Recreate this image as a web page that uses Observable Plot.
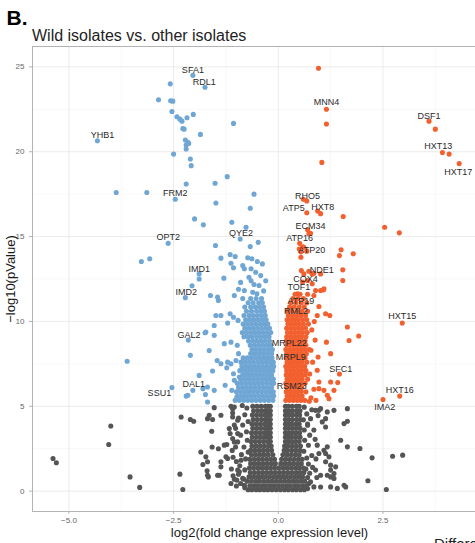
<!DOCTYPE html>
<html>
<head>
<meta charset="utf-8">
<script src="https://cdn.jsdelivr.net/npm/d3@7"></script>
<script src="https://cdn.jsdelivr.net/npm/@observablehq/plot@0.6"></script>
<style>
  html, body { margin: 0; padding: 0; background: #fff; overflow: hidden; width: 475px; height: 543px; }
  body { position: relative; font-family: "Liberation Sans", Arial, Helvetica, sans-serif; }
  #panel-label { position: absolute; left: 6.5px; top: 7px; font-size: 21px; font-weight: bold; line-height: 1; color: #000; }
  #title { position: absolute; left: 32px; top: 27.5px; font-size: 16px; line-height: 1; color: #222; white-space: nowrap; }
  #legend-title { position: absolute; left: 434px; top: 536px; font-size: 15px; line-height: 1; color: #222; white-space: nowrap; }
  #chart { position: absolute; left: 0; top: 0; }
  g[aria-label^="x-axis"], g[aria-label^="y-axis"] { color: #b3b3b3; }
  g[aria-label^="x-axis"] text, g[aria-label^="y-axis"] text { fill: #666; stroke: none; }
</style>
</head>
<body>
<div id="chart"></div>
<div id="panel-label">B.</div>
<div id="title">Wild isolates vs. other isolates</div>
<div id="legend-title">Differentially expressed</div>
<script>
// ---- axis ticks ----
const xTicks = [-5, -2.5, 0, 2.5];
const xTickLabels = ["\u22125.0", "\u22122.5", "0.0", "2.5"];
const yTicks = [0, 5, 10, 15, 20, 25];
const yTickLabels = ["0", "5", "10", "15", "20", "25"];
const xMinor = [-3.75, -1.25, 1.25, 3.75];
const yMinor = [2.5, 7.5, 12.5, 17.5, 22.5];
const xLabel = "log2(fold change expression level)";
const yLabel = "\u2212log10(pValue)";

// ---- down-regulated (blue) scattered points [log2FC, -log10 p] ----
const downPoints = [
  [-2.04,24.5],[-1.75,23.8],[-4.32,20.65],[-2.46,17.2],[-2.63,14.6],[-1.89,12.8],[-1.89,12.5],
  [-2.06,12.1],[-2.22,11.4],[-2.15,8.9],[-2.54,6.1],[-2.04,5.94],[-2.2,5.6],
  [-2.58,24.0],[-2.86,23.06],[-2.57,23.0],[-2.52,22.98],[-2.54,22.37],[-2.42,22.06],[-2.35,21.92],
  [-2.3,21.8],[-2.18,22.0],[-2.03,22.2],[-2.28,21.37],[-2.25,21.33],[-1.86,21.02],[-1.07,21.67],
  [-2.22,20.69],[-2.16,20.55],[-2.14,20.49],[-2.2,20.4],[-2.2,20.16],[-2.5,19.86],[-2.1,19.57],
  [-2.08,19.18],[-1.22,18.53],[-1.51,18.14],[-2.2,18.1],[-3.87,17.6],[-3.14,17.6],[-1.49,16.98],
  [-2.0,16.04],[-1.79,15.69],[-1.11,15.84],[-1.5,14.47],[-3.27,13.53],[-3.07,13.69],[-1.37,13.73],
  [-1.3,12.55],[-0.58,17.5],[-0.67,16.67],[-0.77,15.55],[-0.91,14.86],[-0.48,14.66],[-0.67,14.41],
  [-1.15,13.94],[-1.03,13.82],[-0.73,13.75],[-0.63,13.69],[-0.5,13.53],[-0.38,13.39],[-1.13,13.43],
  [-1.07,13.16],[-0.85,13.29],[-0.81,13.1],[-0.65,13.1],[-0.54,12.9],[-0.42,12.7],[-0.7,12.6],
  [-0.65,12.4],[-0.58,12.18],[-0.46,12.12],[-0.81,11.82],[-0.61,11.72],[-0.51,11.63],[-1.05,11.53],
  [-1.45,11.43],[-1.62,11.53],[-1.43,11.24],[-1.37,10.35],[-1.15,10.45],[-1.07,10.25],[-0.96,10.06],
  [-1.21,9.9],[-1.75,9.33],[-1.53,9.18],[-1.29,8.69],[-1.13,8.78],[-1.65,8.29],[-2.1,8.0],
  [-3.61,7.65],[-1.46,7.7],[-1.21,7.6],[-1.13,7.5],[-1.01,7.7],[-1.57,7.08],[-1.23,7.27],
  [-1.07,6.92],[-1.05,6.53],[-0.93,6.72],[-1.27,6.24],[-1.8,6.04],[-1.53,5.94],[-1.11,5.94],
  [-1.74,5.69],[-1.69,5.25],[-0.99,5.55],[-1.49,10.35],[-1.53,9.76],[-1.73,9.37],[-1.37,7.51],
  [-1.89,6.82],[-1.69,6.14],[-2.16,5.65],[-0.95,11.9],[-0.3,12.4],[-0.9,12.3],[-0.35,11.8]
];
// dense down-regulated core: [ -log10 p, [log2FC ...] ]
const downRows = [
  [5.35,[-1.03,-0.93,-0.83,-0.73,-0.63,-0.53,-0.43,-0.33,-0.23,-0.13]],
  [5.6,[-0.97,-0.87,-0.77,-0.67,-0.57,-0.47,-0.37,-0.27,-0.17,-0.11]],
  [5.85,[-1.0,-0.9,-0.8,-0.7,-0.6,-0.5,-0.4,-0.3,-0.2,-0.12]],
  [6.1,[-0.95,-0.85,-0.75,-0.65,-0.55,-0.45,-0.35,-0.25,-0.16]],
  [6.35,[-0.98,-0.88,-0.78,-0.68,-0.58,-0.48,-0.38,-0.28,-0.18,-0.11]],
  [6.6,[-0.9,-0.8,-0.7,-0.6,-0.5,-0.4,-0.3,-0.2,-0.12]],
  [6.85,[-0.85,-0.75,-0.65,-0.55,-0.45,-0.35,-0.25,-0.16]],
  [7.1,[-0.92,-0.82,-0.72,-0.62,-0.52,-0.42,-0.32,-0.22,-0.13]],
  [7.35,[-0.87,-0.77,-0.67,-0.57,-0.47,-0.37,-0.27,-0.17,-0.11]],
  [7.6,[-0.89,-0.79,-0.69,-0.59,-0.49,-0.39,-0.29,-0.19,-0.12]],
  [7.85,[-0.84,-0.74,-0.64,-0.54,-0.44,-0.34,-0.24,-0.15]],
  [8.1,[-0.95,-0.66,-0.56,-0.46,-0.36,-0.26,-0.16]],
  [8.35,[-0.63,-0.53,-0.43,-0.33,-0.23,-0.14]],
  [8.6,[-0.98,-0.67,-0.57,-0.47,-0.37,-0.27,-0.18]],
  [8.85,[-0.71,-0.61,-0.51,-0.41,-0.31,-0.21]],
  [9.1,[-0.82,-0.72,-0.62,-0.52,-0.42,-0.32,-0.22]],
  [9.35,[-0.86,-0.76,-0.66,-0.56,-0.46,-0.36,-0.26,-0.18]],
  [9.6,[-0.8,-0.7,-0.6,-0.5,-0.4,-0.3,-0.21]],
  [9.85,[-0.84,-0.74,-0.64,-0.54,-0.44,-0.34,-0.25]],
  [10.1,[-0.78,-0.68,-0.58,-0.48,-0.38,-0.29]],
  [10.35,[-0.82,-0.7,-0.6,-0.5,-0.4,-0.31]],
  [10.6,[-0.76,-0.64,-0.52,-0.42,-0.33]],
  [10.85,[-0.8,-0.66,-0.55,-0.45,-0.35]],
  [11.1,[-0.72,-0.6,-0.47,-0.38]],
  [11.35,[-0.85,-0.66,-0.53,-0.4]]
];

// ---- up-regulated (red) scattered points ----
const upPoints = [
  [0.96,24.92],[1.15,22.5],[1.15,21.63],[1.04,19.37],[3.6,21.8],[3.75,21.33],[3.92,19.95],
  [4.08,19.86],[4.32,19.3],[0.6,17.2],[0.68,17.1],[0.68,16.4],[0.94,16.5],[1.01,16.35],
  [1.55,16.18],[2.54,15.55],[2.89,15.22],[0.77,15.2],[0.7,15.4],[0.51,14.6],[0.58,14.4],
  [0.54,14.1],[0.54,13.78],[1.5,14.22],[1.46,13.88],[1.79,13.98],[1.54,13.04],[1.54,12.41],
  [0.89,11.82],[1.08,11.86],[0.97,10.88],[0.93,10.35],[1.13,10.45],[1.23,10.35],[1.65,9.67],
  [1.92,9.14],[1.69,8.88],[1.15,8.78],[1.25,8.1],[0.93,7.12],[0.97,6.43],[1.25,6.43],
  [1.42,6.4],[1.09,5.94],[1.33,5.94],[1.21,5.45],[1.46,6.9],[2.96,9.9],[2.9,5.6],[2.5,5.4],
  [0.97,6.04],[1.17,5.65],[0.68,14.14],[0.55,13.0],[0.73,12.96],[0.81,12.8],[0.61,12.8],
  [1.01,12.8],[1.09,11.92],[0.7,12.41],[0.81,12.22],[0.58,12.32],[1.01,11.82],[0.85,11.53],
  [0.46,11.63],[0.73,15.16],[0.61,14.37],[0.5,14.27],[0.85,12.84],
  [0.78,5.5],[0.85,6.0],[0.75,6.9],[0.82,7.6],[0.78,8.3],[0.88,8.9],[0.8,9.5],[0.86,10.0],
  [0.74,5.3],[0.9,5.35],[0.95,7.9]
];
const upRows = [
  [5.35,[0.18,0.27,0.36,0.45,0.54,0.63]],
  [5.6,[0.21,0.3,0.39,0.48,0.57]],
  [5.85,[0.19,0.28,0.37,0.46,0.55,0.66]],
  [6.1,[0.2,0.29,0.38,0.47,0.56]],
  [6.35,[0.18,0.27,0.36,0.45,0.54,0.64]],
  [6.6,[0.21,0.3,0.39,0.48,0.57,0.7]],
  [6.85,[0.19,0.28,0.37,0.46,0.55,0.64]],
  [7.1,[0.2,0.29,0.38,0.47,0.56,0.66]],
  [7.35,[0.18,0.27,0.36,0.45,0.54,0.63]],
  [7.6,[0.21,0.3,0.39,0.48,0.57,0.68]],
  [7.85,[0.19,0.28,0.37,0.46,0.55,0.64]],
  [8.1,[0.2,0.29,0.38,0.47,0.56,0.67]],
  [8.35,[0.18,0.27,0.36,0.45,0.54,0.63,0.74]],
  [8.6,[0.21,0.3,0.39,0.48,0.57,0.66]],
  [8.85,[0.19,0.28,0.37,0.46,0.55,0.64]],
  [9.1,[0.2,0.29,0.38,0.47,0.56,0.66]],
  [9.35,[0.22,0.31,0.4,0.49,0.58,0.69]],
  [9.6,[0.2,0.29,0.38,0.47,0.56,0.65]],
  [9.85,[0.23,0.32,0.41,0.5,0.6,0.72]],
  [10.1,[0.21,0.3,0.39,0.48,0.58,0.68]],
  [10.35,[0.24,0.34,0.44,0.54,0.65]],
  [10.6,[0.22,0.33,0.45,0.57,0.7]],
  [10.85,[0.27,0.38,0.5,0.62]],
  [11.1,[0.3,0.42,0.55,0.68]],
  [11.35,[0.35,0.47,0.6]],
  [11.6,[0.4,0.52,0.7]]
];

// ---- not significant (grey) scattered points ----
const nsPoints = [
  [-5.38,1.92],[-5.3,1.67],[-4.0,3.84],[-4.05,2.75],[-3.54,0.84],[-3.31,0.22],[-2.32,4.37],
  [-2.1,4.22],[-2.02,4.12],[-2.35,1.0],[-2.28,0.1],[-1.85,2.31],[-1.8,1.57],[-1.7,1.2],
  [-1.67,0.84],[-1.65,4.47],[-1.57,4.22],[-1.53,4.92],[-1.59,3.53],[-1.58,2.6],[-1.43,2.5],
  [-1.37,1.43],[-1.41,0.94],[-1.37,4.47],[-1.13,5.0],[-1.23,2.75],[-1.21,1.92],[-0.99,0.65],
  [-0.93,1.14],[-1.73,2.02],[-1.69,1.73],[-1.37,1.73],[-1.69,4.27],[-1.29,2.71],[-1.69,0.94],
  [-1.45,0.94],[-1.09,4.86],[-1.09,4.37],[-0.97,4.18],[-1.17,3.69],[-1.09,3.1],[-0.97,2.9],
  [-1.25,2.02],[-0.89,1.82],[-0.97,1.24],[-0.85,0.75],[-0.81,0.35],[-1.05,4.96],[-0.97,3.39],
  [-1.09,4.6],[-1.05,3.9],[-1.15,3.4],[-1.02,2.6],[-1.08,2.0],[-1.12,1.3],[-1.05,0.7],[-1.13,0.45],
  [0.77,4.27],[0.7,3.88],[0.97,4.76],[1.05,4.08],[1.13,3.78],[1.33,4.76],[1.65,4.86],[1.65,4.12],
  [1.57,3.98],[1.49,3.0],[1.65,2.61],[0.93,2.71],[0.97,2.22],[1.09,2.41],[1.21,2.02],[1.13,1.73],
  [1.25,1.53],[1.17,0.94],[1.33,0.75],[1.57,0.35],[1.41,0.16],[0.77,0.55],[0.85,0.25],[0.89,1.24],
  [1.01,0.94],[1.13,4.27],[1.95,2.51],[2.24,1.96],[2.73,2.06],[2.97,2.12],[2.14,0.61],[2.58,0.1],
  [1.61,0.25],[1.25,0.25],[1.01,0.24],[1.33,1.04],[1.25,0.84],[1.17,2.61],[1.13,2.22],[1.37,1.43],
  [1.25,1.24],[1.01,4.86],[0.89,4.76],[1.17,4.67],
  [-0.75,4.9],[-0.8,4.5],[-0.72,4.1],[-0.85,3.9],[-0.76,3.5],[-0.9,3.3],[-0.74,3.0],[-0.82,2.6],
  [-0.72,2.3],[-0.88,2.15],[-0.78,1.9],[-0.92,1.5],[-0.8,1.25],[-0.95,1.0],[-0.82,0.7],[-0.9,0.45],
  [-0.8,0.2],[-1.0,0.3],[-0.86,5.05],[-0.95,4.3],[-1.02,3.7],[-1.05,2.9],[-1.1,2.4],[-1.0,1.75],
  [-1.08,0.9],[0.62,4.95],[0.68,4.55],[0.6,4.2],[0.7,3.95],[0.62,3.6],[0.75,3.3],[0.63,3.0],
  [0.72,2.7],[0.61,2.35],[0.8,2.1],[0.68,1.95],[0.72,1.6],[0.66,1.3],[0.75,1.05],[0.7,0.8],
  [0.73,0.45],[0.7,0.15],[0.85,3.6],[0.82,1.4],[0.9,1.9],[0.88,3.05],[0.95,4.45],[0.8,4.8],[0.92,0.8]
];
// dense grey core: [ -log10 p, [log2FC ...] ]
const nsRows = [
  [0.08,[-0.72,-0.63,-0.53,-0.44,-0.34,-0.25,-0.15,-0.05,0.05,0.15,0.24,0.34,0.43,0.53,0.62]],
  [0.32,[-0.68,-0.58,-0.49,-0.39,-0.3,-0.2,-0.1,0.0,0.1,0.2,0.29,0.39,0.48,0.58,0.67]],
  [0.58,[-0.74,-0.64,-0.54,-0.45,-0.35,-0.25,-0.15,-0.05,0.05,0.15,0.25,0.35,0.44,0.54,0.63]],
  [0.84,[-0.7,-0.6,-0.5,-0.41,-0.31,-0.21,-0.11,-0.01,0.09,0.19,0.29,0.39,0.49,0.58]],
  [1.1,[-0.67,-0.57,-0.47,-0.37,-0.27,-0.17,-0.07,0.03,0.13,0.23,0.33,0.43,0.52,0.61]],
  [1.36,[-0.69,-0.59,-0.49,-0.39,-0.29,-0.19,-0.09,0.01,0.11,0.21,0.31,0.41,0.5,0.6]],
  [1.62,[-0.66,-0.56,-0.46,-0.36,-0.26,-0.16,-0.07,0.06,0.16,0.26,0.36,0.46,0.55]],
  [1.88,[-0.68,-0.58,-0.48,-0.38,-0.28,-0.18,-0.09,0.08,0.18,0.28,0.38,0.48,0.57]],
  [2.14,[-0.64,-0.54,-0.44,-0.34,-0.24,-0.13,0.11,0.21,0.31,0.41,0.5]],
  [2.4,[-0.66,-0.56,-0.46,-0.36,-0.26,-0.16,0.14,0.22,0.32,0.42,0.52]],
  [2.66,[-0.63,-0.53,-0.43,-0.33,-0.23,-0.17,0.15,0.23,0.33,0.43,0.53]],
  [2.92,[-0.65,-0.55,-0.45,-0.35,-0.25,-0.19,0.17,0.25,0.33,0.41,0.5]],
  [3.18,[-0.62,-0.52,-0.42,-0.32,-0.24,-0.19,0.17,0.24,0.32,0.42,0.52]],
  [3.44,[-0.64,-0.54,-0.44,-0.34,-0.26,-0.19,0.17,0.25,0.33,0.42,0.51]],
  [3.7,[-0.61,-0.51,-0.41,-0.31,-0.25,-0.19,0.17,0.25,0.34,0.43,0.52]],
  [3.96,[-0.63,-0.53,-0.43,-0.33,-0.26,-0.19,0.17,0.24,0.32,0.42,0.5]],
  [4.22,[-0.6,-0.5,-0.4,-0.31,-0.25,-0.19,0.17,0.25,0.34,0.44,0.53]],
  [4.48,[-0.62,-0.52,-0.42,-0.32,-0.26,-0.19,0.17,0.24,0.33,0.43,0.51]],
  [4.74,[-0.59,-0.49,-0.39,-0.3,-0.25,-0.19,0.17,0.25,0.34,0.44,0.52]],
  [5.0,[-0.61,-0.51,-0.41,-0.31,-0.25,-0.19,0.17,0.24,0.33,0.43,0.5]]
];

// ---- gene labels (label centre, data units) ----
const geneNames = ["SFA1","RDL1","YHB1","FRM2","OPT2","QYE2","IMD1","IMD2","GAL2","SSU1","DAL1",
  "MNN4","DSF1","HXT13","HXT17","RHO5","ATP5","HXT8","ECM34","ATP16","ATP20","NDE1","COX4","TOF1",
  "ATP19","RML2","MRPL22","MRPL9","RSM23","SFC1","HXT15","HXT16","IMA2"];
const geneLabelX = [-2.04,-1.77,-4.2,-2.46,-2.63,-0.89,-1.89,-2.2,-2.13,-2.84,-2.02,
  1.15,3.6,3.82,4.3,0.7,0.37,1.06,0.77,0.51,0.8,1.04,0.65,0.49,
  0.54,0.42,0.26,0.3,0.32,1.49,2.96,2.9,2.54];
const geneLabelY = [24.8,24.1,21.0,17.55,14.95,15.2,13.06,11.7,9.18,5.8,6.3,
  22.9,22.1,20.35,18.8,17.4,16.7,16.76,15.6,14.9,14.2,13.05,12.5,12.0,
  11.2,10.6,8.7,7.9,6.2,7.2,10.3,5.94,4.94];

// ---- build tables ----
const pairs = (arr) => arr.map(([x, y]) => ({x, y}));
const rows = (arr) => arr.flatMap(([y, xs]) => xs.map(x => ({x, y})));
const nsData = pairs(nsPoints).concat(rows(nsRows));
const downData = pairs(downPoints).concat(rows(downRows));
const upData = pairs(upPoints).concat(rows(upRows));
const genes = geneNames.map((name, i) => ({name, x: geneLabelX[i], y: geneLabelY[i]}));
const xFmt = new Map(xTicks.map((t, i) => [t, xTickLabels[i]]));
const yFmt = new Map(yTicks.map((t, i) => [t, yTickLabels[i]]));

const R = 2.55;
const chart = Plot.plot({
  width: 520,
  height: 543,
  marginLeft: 32,
  marginRight: 14,
  marginTop: 46,
  marginBottom: 32,
  style: {maxWidth: "none", background: "transparent", fontFamily: "'Liberation Sans', Arial, Helvetica, sans-serif", fontSize: "8px", overflow: "visible"},
  x: {domain: [-5.87, 5.45], ticks: xTicks, tickFormat: d => xFmt.get(d), tickSize: 3, tickPadding: 3, label: null},
  y: {domain: [-1.2, 26.2], ticks: yTicks, tickFormat: d => yFmt.get(d), tickSize: 3, tickPadding: 5, label: null},
  marks: [
    Plot.ruleX(xMinor, {stroke: "#f3f3f3", strokeWidth: 0.6}),
    Plot.ruleY(yMinor, {stroke: "#f3f3f3", strokeWidth: 0.6}),
    Plot.ruleX(xTicks, {stroke: "#e6e6e6", strokeWidth: 0.8}),
    Plot.ruleY(yTicks, {stroke: "#e6e6e6", strokeWidth: 0.8}),
    Plot.dot(nsData, {x: "x", y: "y", r: R, fill: "#555555", stroke: "none"}),
    Plot.dot(downData, {x: "x", y: "y", r: R, fill: "#6fa6d4", stroke: "none"}),
    Plot.dot(upData, {x: "x", y: "y", r: R, fill: "#f2602f", stroke: "none"}),
    Plot.text(genes, {x: "x", y: "y", text: "name", fontSize: 9, fill: "#2a2a2a", textAnchor: "middle", lineAnchor: "middle"}),
    Plot.frame({stroke: "#b3b3b3", strokeWidth: 1}),
    Plot.text([xLabel], {text: d => d, frameAnchor: "bottom", dy: 21, lineAnchor: "middle", fontSize: 13, fill: "#1a1a1a"}),
    Plot.text([yLabel], {text: d => d, frameAnchor: "left", dx: -22, rotate: -90, lineAnchor: "middle", textAnchor: "middle", fontSize: 13, fill: "#1a1a1a"})
  ]
});
document.getElementById("chart").appendChild(chart);
</script>
</body>
</html>
